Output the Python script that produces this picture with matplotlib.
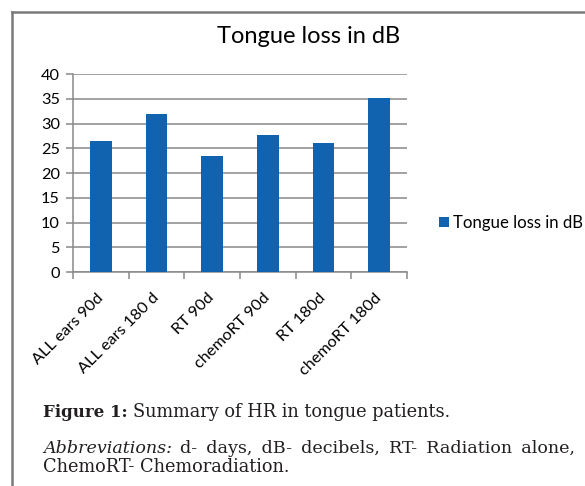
import matplotlib.pyplot as plt
from matplotlib.lines import Line2D
import numpy as np

categories = ["ALL ears 90d", "ALL ears 180 d", "RT 90d", "chemoRT 90d", "RT 180d", "chemoRT 180d"]
tongue_loss = [26.4, 31.9, 23.5, 27.7, 26.1, 35.2]
series_name = "Tongue loss in dB"

caption_head = "Figure 1:"
caption_body = "Summary of HR in tongue patients."
abbrev_head = "Abbreviations:"
abbrev_words = ["d-", "days,", "dB-", "decibels,", "RT-", "Radiation", "alone,"]
abbrev_tail = "ChemoRT- Chemoradiation."

bar_color = "#1162AF"
grid_color = "#898989"
text_color = "#231f20"
sans = "Lato"
serif = "DejaVu Serif"

W, H = 585, 486
fig = plt.figure(figsize=(W / 100, H / 100), dpi=100)
ax = fig.add_axes([73 / W, 1 - 272 / H, 334 / W, 198 / H])

x = np.arange(len(categories))
ax.bar(x, tongue_loss, width=0.39, color=bar_color, label=series_name, zorder=3)

ax.set_xlim(-0.5, len(categories) - 0.5)
ax.set_ylim(0, 40)
ax.set_yticks(range(0, 41, 5))
ax.yaxis.grid(True, color=grid_color, linewidth=1.1)
ax.set_axisbelow(True)

# ticks sit on the category boundaries, labels under the bar centres
ax.set_xticks(np.arange(-0.5, len(categories)))
ax.set_xticklabels([])
ax.set_xticks(x, minor=True)
ax.set_xticklabels(categories, minor=True, rotation=45, ha="right", va="center",
                   rotation_mode="anchor", fontsize=11.7, family=sans)
ax.tick_params(axis="x", which="minor", length=0, pad=17)
ax.tick_params(axis="x", which="major", length=5, color=grid_color, width=1.1)
ax.tick_params(axis="y", length=5, color=grid_color, width=1.1, labelsize=11.7, pad=4.5)
for lab in ax.get_yticklabels():
    lab.set_family(sans)

for side in ["top", "right"]:
    ax.spines[side].set_visible(False)
for side in ["left", "bottom"]:
    ax.spines[side].set_color(grid_color)
    ax.spines[side].set_linewidth(1.1)

fig.text(309 / W, 1 - 43 / H, "Tongue loss in dB", ha="center",
         va="baseline", fontsize=17, family=sans)

fig.legend(loc="center left", bbox_to_anchor=(439 / W, 1 - 223 / H),
           frameon=False, borderpad=0, borderaxespad=0,
           handlelength=0.6, handleheight=0.6, handletextpad=0.25,
           prop={"family": sans, "size": 12.1})

# outer frame of the figure panel
frame = dict(color="#7a7a7a", linewidth=1.8, transform=fig.transFigure)
fig.add_artist(Line2D([12 / W, 1.0], [1 - 12 / H, 1 - 12 / H], **frame))
fig.add_artist(Line2D([12 / W, 12 / W], [1 - 12 / H, 0.0], **frame))

fig.canvas.draw()
r = fig.canvas.get_renderer()

# caption, line 1: bold head then body
y1, y2, y3 = 1 - 417 / H, 1 - 453 / H, 1 - 472 / H
x0 = 43 / W
head = fig.text(x0, y1, caption_head, fontsize=12, family=serif,
                fontweight="bold", va="baseline", color=text_color)
hw = head.get_window_extent(r).width
fig.text(x0 + (hw + 5) / W, y1, caption_body, fontsize=12.8, family=serif,
         va="baseline", color=text_color)

# caption, line 2: italic head, then words with slightly wider spacing
ab = fig.text(x0, y2, abbrev_head, fontsize=12.6, family=serif, style="italic",
              va="baseline", color=text_color)
aw = ab.get_window_extent(r).width
fig.text(x0 + (aw + 8) / W, y2, " \u2009".join(abbrev_words), fontsize=12.6,
         family=serif, va="baseline", color=text_color)

fig.text(x0, y3, abbrev_tail, fontsize=12.8, family=serif, va="baseline",
         color=text_color)

plt.savefig("out.png", dpi=100)
